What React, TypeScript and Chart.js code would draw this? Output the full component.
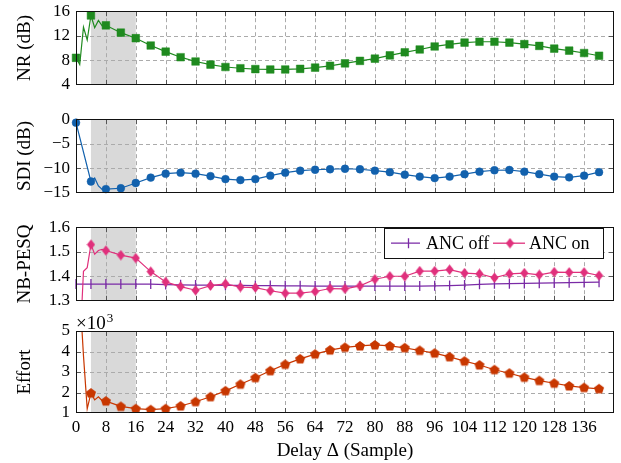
import React, { useEffect, useRef } from 'react';
import { Chart, registerables } from 'chart.js';
Chart.register(...registerables);

// ---------------- data ----------------
const delays = [0, 1, 2, 3, 4, 5, 6, 7, 8, 12, 16, 20, 24, 28, 32, 36, 40, 44, 48, 52, 56, 60, 64, 68, 72, 76, 80, 84, 88, 92, 96, 100, 104, 108, 112, 116, 120, 124, 128, 132, 136, 140];

const nrValues = [8.4, 7.3, 13.4, 11.3, 15.3, 13.3, 14.5, 13.6, 13.7, 12.5, 11.6, 10.4, 9.4, 8.5, 7.8, 7.3, 6.9, 6.7, 6.56, 6.5, 6.5, 6.6, 6.8, 7.1, 7.5, 7.9, 8.26, 8.8, 9.3, 9.76, 10.25, 10.58, 10.88, 11.02, 11.02, 10.88, 10.63, 10.34, 9.9, 9.57, 9.18, 8.74];

const sdiValues = [-0.7, null, null, null, -12.7, -12.0, -13.6, -14.3, -14.25, -14.07, -13.0, -11.9, -11.1, -10.9, -11.1, -11.6, -12.2, -12.4, -12.2, -11.5, -10.9, -10.5, -10.3, -10.2, -10.1, -10.2, -10.5, -10.8, -11.3, -11.7, -12.0, -11.7, -11.2, -10.7, -10.4, -10.35, -10.7, -11.2, -11.7, -11.85, -11.5, -10.8];

const pesqOffValues = [1.368, null, null, null, 1.368, null, null, null, 1.368, 1.368, 1.368, 1.368, 1.366, 1.365, 1.364, 1.364, 1.363, 1.363, 1.362, 1.362, 1.361, 1.361, 1.36, 1.36, 1.36, 1.36, 1.36, 1.36, 1.36, 1.36, 1.361, 1.362, 1.364, 1.367, 1.369, 1.37, 1.371, 1.372, 1.373, 1.374, 1.375, 1.376];

const pesqOnValues = [null, 1.1, 1.42, 1.435, 1.529, 1.49, 1.505, 1.51, 1.505, 1.486, 1.474, 1.419, 1.377, 1.358, 1.343, 1.362, 1.369, 1.356, 1.354, 1.341, 1.331, 1.331, 1.338, 1.35, 1.349, 1.361, 1.388, 1.4, 1.4, 1.421, 1.421, 1.427, 1.413, 1.41, 1.394, 1.41, 1.413, 1.406, 1.417, 1.416, 1.416, 1.403];

// Effort in units of 10^3
const effortValues = [null, 6.9, 3.8, 1.2, 1.97, 1.64, 1.79, 1.6, 1.58, 1.32, 1.21, 1.16, 1.21, 1.34, 1.55, 1.79, 2.08, 2.4, 2.72, 3.06, 3.37, 3.64, 3.87, 4.07, 4.2, 4.27, 4.32, 4.27, 4.18, 4.05, 3.92, 3.74, 3.53, 3.34, 3.11, 2.94, 2.74, 2.58, 2.45, 2.32, 2.24, 2.18];

const xTickValues = [0, 8, 16, 24, 32, 40, 48, 56, 64, 72, 80, 88, 96, 104, 112, 120, 128, 136];
const xRange = [0, 144];
const shadeRange = [4, 16];
const markerStep = 4;

const nrTicks = [4, 8, 12, 16];
const sdiTicks = [-15, -10, -5, 0];
const pesqTicks = [1.3, 1.4, 1.5, 1.6];
const effortTicks = [1, 2, 3, 4, 5];

const legendLabels = ['ANC off', 'ANC on'];

// ---------------- style ----------------
const FONT = '"Liberation Serif", "Times New Roman", serif';
const GREEN = '#1f8a1f';
const BLUE = '#1261ad';
const PURPLE = '#7a2aa6';
const PINK = '#e0307c';
const ORANGE = '#c83700';
const SHADE = '#d9d9d9';
const GRID = '#ababab';
const W = 621;

function makeImg(w: number, h: number, draw: (c: CanvasRenderingContext2D) => void) {
  const cv = document.createElement('canvas');
  cv.width = w;
  cv.height = h;
  const c = cv.getContext('2d')!;
  draw(c);
  return cv;
}

let _diamond: HTMLCanvasElement | null = null;
let _pentagon: HTMLCanvasElement | null = null;
function diamondImg() {
  if (!_diamond)
    _diamond = makeImg(9, 11, (c) => {
      c.fillStyle = PINK;
      c.beginPath();
      c.moveTo(4.5, 0.3);
      c.lineTo(8.6, 5.5);
      c.lineTo(4.5, 10.7);
      c.lineTo(0.4, 5.5);
      c.closePath();
      c.fill();
    });
  return _diamond;
}
function pentagonImg() {
  if (!_pentagon)
    _pentagon = makeImg(12, 12, (c) => {
      c.fillStyle = ORANGE;
      c.beginPath();
      for (let k = 0; k < 5; k++) {
        const a = -Math.PI / 2 + (k * 2 * Math.PI) / 5;
        const px = 6 + 5.3 * Math.cos(a);
        const py = 6.3 + 5.3 * Math.sin(a);
        if (k === 0) c.moveTo(px, py);
        else c.lineTo(px, py);
      }
      c.closePath();
      c.fill();
    });
  return _pentagon;
}

function toPoints(vals: (number | null)[]) {
  return delays.map((d, i) => ({ x: d, y: vals[i] })).filter((p) => p.y !== null);
}

function markerRadius(r: number) {
  return (ctx: any) => {
    if (!ctx.raw) return r;
    return ctx.raw.x % markerStep === 0 ? r : 0;
  };
}

type Spec = {
  top: number;
  height: number;
  padTop: number;
  yMin: number;
  yMax: number;
  yTicks: number[];
  yFmt: (v: number) => string;
  yTitle: string;
  showX: boolean;
  datasets: () => any[];
  extra?: (chart: any) => void;
};

function decorPlugin(spec: Spec) {
  return {
    id: 'decor',
    beforeDatasetsDraw(chart: any) {
      const { ctx, chartArea: a, scales } = chart;
      const xs = scales.x;
      const ys = scales.y;
      ctx.save();
      const s0 = xs.getPixelForValue(shadeRange[0]);
      const s1 = xs.getPixelForValue(shadeRange[1]);
      ctx.fillStyle = SHADE;
      ctx.fillRect(s0, a.top, s1 - s0, a.bottom - a.top);
      ctx.strokeStyle = GRID;
      ctx.lineWidth = 1;
      ctx.setLineDash([4, 3]);
      for (const t of xTickValues) {
        if (t <= xRange[0] || t >= xRange[1]) continue;
        const p = Math.round(xs.getPixelForValue(t)) + 0.5;
        ctx.beginPath();
        ctx.moveTo(p, a.top);
        ctx.lineTo(p, a.bottom);
        ctx.stroke();
      }
      for (const t of spec.yTicks) {
        if (t <= spec.yMin || t >= spec.yMax) continue;
        const p = Math.round(ys.getPixelForValue(t)) + 0.5;
        ctx.beginPath();
        ctx.moveTo(a.left, p);
        ctx.lineTo(a.right, p);
        ctx.stroke();
      }
      ctx.setLineDash([]);
      ctx.strokeStyle = '#555';
      const tl = 5;
      for (const t of xTickValues) {
        if (t <= xRange[0] || t >= xRange[1]) continue;
        const p = Math.round(xs.getPixelForValue(t)) + 0.5;
        ctx.beginPath();
        ctx.moveTo(p, a.top);
        ctx.lineTo(p, a.top + tl);
        ctx.moveTo(p, a.bottom);
        ctx.lineTo(p, a.bottom - tl);
        ctx.stroke();
      }
      for (const t of spec.yTicks) {
        if (t <= spec.yMin || t >= spec.yMax) continue;
        const p = Math.round(ys.getPixelForValue(t)) + 0.5;
        ctx.beginPath();
        ctx.moveTo(a.left, p);
        ctx.lineTo(a.left + tl, p);
        ctx.moveTo(a.right, p);
        ctx.lineTo(a.right - tl, p);
        ctx.stroke();
      }
      ctx.restore();
    },
    afterDatasetsDraw(chart: any) {
      const { ctx, chartArea: a } = chart;
      ctx.save();
      ctx.strokeStyle = '#111';
      ctx.lineWidth = 1;
      ctx.strokeRect(Math.round(a.left) + 0.5, Math.round(a.top) + 0.5, Math.round(a.right - a.left) - 1, Math.round(a.bottom - a.top) - 1);
      ctx.restore();
      if (spec.extra) spec.extra(chart);
    },
    afterDraw(chart: any) {
      const { ctx, chartArea: a } = chart;
      ctx.save();
      ctx.fillStyle = '#000';
      ctx.font = `19px ${FONT}`;
      ctx.textAlign = 'center';
      ctx.textBaseline = 'middle';
      ctx.translate(25, (a.top + a.bottom) / 2);
      ctx.rotate(-Math.PI / 2);
      ctx.fillText(spec.yTitle, 0, 0);
      ctx.restore();
      if (spec.showX) {
        ctx.save();
        ctx.fillStyle = '#000';
        ctx.font = `19px ${FONT}`;
        ctx.textAlign = 'center';
        ctx.textBaseline = 'middle';
        ctx.fillText('Delay \u0394 (Sample)', (a.left + a.right) / 2, a.bottom + 38);
        ctx.restore();
      }
    },
  };
}

function drawLegend(chart: any) {
  const { ctx, chartArea: a } = chart;
  const left = a.right - 230;
  const top = a.top + 1;
  const w = 219;
  const h = 30;
  const cy = top + h / 2;
  ctx.save();
  ctx.fillStyle = '#fff';
  ctx.fillRect(left, top, w, h);
  ctx.strokeStyle = '#111';
  ctx.lineWidth = 1;
  ctx.strokeRect(Math.round(left) + 0.5, Math.round(top) + 0.5, w, h);
  ctx.strokeStyle = PURPLE;
  ctx.lineWidth = 1.3;
  ctx.beginPath();
  ctx.moveTo(left + 7, cy);
  ctx.lineTo(left + 36, cy);
  ctx.moveTo(left + 24.5, cy - 5);
  ctx.lineTo(left + 24.5, cy + 5);
  ctx.stroke();
  ctx.strokeStyle = PINK;
  ctx.beginPath();
  ctx.moveTo(left + 109, cy);
  ctx.lineTo(left + 141, cy);
  ctx.stroke();
  const d = diamondImg();
  ctx.drawImage(d, left + 126 - d.width / 2, cy - d.height / 2);
  ctx.fillStyle = '#000';
  ctx.font = `18px ${FONT}`;
  ctx.textAlign = 'left';
  ctx.textBaseline = 'middle';
  ctx.fillText(legendLabels[0], left + 42, cy + 1);
  ctx.fillText(legendLabels[1], left + 145, cy + 1);
  ctx.restore();
}

function drawExponent(chart: any) {
  const { ctx, chartArea: a } = chart;
  ctx.save();
  ctx.fillStyle = '#000';
  ctx.textAlign = 'left';
  ctx.textBaseline = 'alphabetic';
  ctx.font = `19px ${FONT}`;
  const base = '\u00d710';
  ctx.fillText(base, a.left, a.top - 2);
  const wBase = ctx.measureText(base).width;
  ctx.font = `13px ${FONT}`;
  ctx.fillText('3', a.left + wBase + 1, a.top - 9);
  ctx.restore();
}

function buildConfig(spec: Spec): any {
  const tickFont = { family: FONT, size: 17 };
  return {
    type: 'line',
    data: { datasets: spec.datasets() },
    options: {
      animation: false,
      responsive: false,
      events: [],
      layout: { padding: { left: 0, right: 7, top: spec.padTop, bottom: spec.showX ? 0 : 12 } },
      plugins: { legend: { display: false }, tooltip: { enabled: false } },
      elements: { line: { tension: 0 } },
      scales: {
        x: {
          type: 'linear',
          min: xRange[0],
          max: xRange[1],
          display: spec.showX,
          grid: { display: false, drawTicks: false },
          border: { display: false },
          ticks: {
            font: tickFont,
            color: '#000',
            padding: 4,
            maxRotation: 0,
            autoSkip: false,
            callback: (v: number) => String(v),
          },
          afterBuildTicks: (s: any) => {
            s.ticks = xTickValues.map((v) => ({ value: v }));
          },
          afterFit: (s: any) => {
            s.height = spec.showX ? 50 : 0;
          },
        },
        y: {
          type: 'linear',
          min: spec.yMin,
          max: spec.yMax,
          grid: { display: false, drawTicks: false },
          border: { display: false },
          ticks: {
            font: tickFont,
            color: '#000',
            padding: 6,
            autoSkip: false,
            callback: (v: number) => spec.yFmt(v),
          },
          afterBuildTicks: (s: any) => {
            s.ticks = spec.yTicks.map((v) => ({ value: v }));
          },
          afterFit: (s: any) => {
            s.width = 76;
          },
        },
      },
    },
    plugins: [decorPlugin(spec)],
  };
}

const openClip = { left: 10, right: 10, top: 10, bottom: 10 };
const yClip = { left: 10, right: 10, top: 0, bottom: 0 };

const specs: Spec[] = [
  {
    top: -5,
    height: 106,
    padTop: 12,
    yMin: 4,
    yMax: 16,
    yTicks: nrTicks,
    yFmt: (v) => String(v),
    yTitle: 'NR (dB)',
    showX: false,
    datasets: () => [
      {
        data: toPoints(nrValues),
        borderColor: GREEN,
        borderWidth: 1.2,
        pointStyle: 'rect',
        pointRadius: markerRadius(5.4),
        pointBackgroundColor: GREEN,
        pointBorderColor: GREEN,
        pointBorderWidth: 0.5,
        clip: openClip,
      },
    ],
  },
  {
    top: 103,
    height: 106,
    padTop: 12,
    yMin: -15,
    yMax: 0,
    yTicks: sdiTicks,
    yFmt: (v) => (v < 0 ? '\u2212' + Math.abs(v) : String(v)),
    yTitle: 'SDI (dB)',
    showX: false,
    datasets: () => [
      {
        data: toPoints(sdiValues),
        borderColor: BLUE,
        borderWidth: 1.2,
        pointStyle: 'circle',
        pointRadius: markerRadius(3.9),
        pointBackgroundColor: BLUE,
        pointBorderColor: BLUE,
        pointBorderWidth: 0.5,
        clip: openClip,
      },
    ],
  },
  {
    top: 211,
    height: 106,
    padTop: 12,
    yMin: 1.3,
    yMax: 1.6,
    yTicks: pesqTicks,
    yFmt: (v) => v.toFixed(1),
    yTitle: 'NB-PESQ',
    showX: false,
    datasets: () => [
      {
        label: legendLabels[0],
        data: toPoints(pesqOffValues),
        borderColor: PURPLE,
        borderWidth: 1.3,
        pointStyle: 'line',
        pointRotation: 90,
        pointRadius: markerRadius(5),
        pointBorderColor: PURPLE,
        pointBorderWidth: 1.3,
        order: 1,
        clip: yClip,
      },
      {
        label: legendLabels[1],
        data: toPoints(pesqOnValues),
        borderColor: PINK,
        borderWidth: 1.2,
        pointStyle: diamondImg(),
        pointRadius: markerRadius(5),
        order: 0,
        clip: yClip,
      },
    ],
    extra: drawLegend,
  },
  {
    top: 306,
    height: 157,
    padTop: 25,
    yMin: 1,
    yMax: 5,
    yTicks: effortTicks,
    yFmt: (v) => String(v),
    yTitle: 'Effort',
    showX: true,
    datasets: () => [
      {
        data: toPoints(effortValues),
        borderColor: ORANGE,
        borderWidth: 1.2,
        pointStyle: pentagonImg(),
        pointRadius: markerRadius(5),
        clip: yClip,
      },
    ],
    extra: drawExponent,
  },
];

function Panel({ spec }: { spec: Spec }) {
  const ref = useRef<HTMLCanvasElement>(null);
  useEffect(() => {
    const chart = new Chart(ref.current!, buildConfig(spec));
    return () => chart.destroy();
  }, [spec]);
  return (
    <canvas
      ref={ref}
      width={W}
      height={spec.height}
      style={{ position: 'absolute', left: 0, top: spec.top, width: W, height: spec.height }}
    />
  );
}

export default function App() {
  return (
    <div style={{ position: 'absolute', left: 0, top: 0, width: W, height: 463, background: '#fff', overflow: 'hidden' }}>
      {specs.map((s, i) => (
        <Panel key={i} spec={s} />
      ))}
    </div>
  );
}
